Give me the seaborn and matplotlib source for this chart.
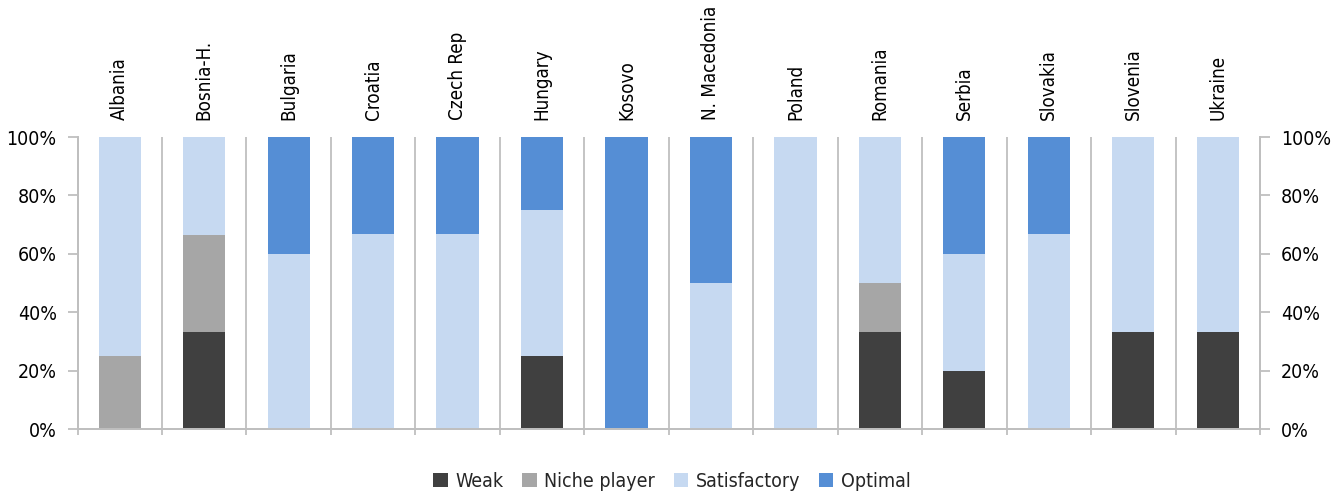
import matplotlib
matplotlib.use("Agg")
import matplotlib.pyplot as plt
import seaborn as sns
import pandas as pd
from matplotlib import font_manager
from matplotlib.patches import Patch
from matplotlib.ticker import FixedLocator, PercentFormatter

countries = ["Albania", "Bosnia-H.", "Bulgaria", "Croatia", "Czech Rep", "Hungary",
             "Kosovo", "N. Macedonia", "Poland", "Romania", "Serbia", "Slovakia",
             "Slovenia", "Ukraine"]
weak = [0, 33.3, 0, 0, 0, 25, 0, 0, 0, 33.3, 20, 0, 33.3, 33.3]
niche = [25, 33.3, 0, 0, 0, 0, 0, 0, 0, 16.7, 0, 0, 0, 0]
satisfactory = [75, 33.4, 60, 66.7, 66.7, 50, 0, 50, 100, 50, 40, 66.7, 66.7, 66.7]
optimal = [0, 0, 40, 33.3, 33.3, 25, 100, 50, 0, 0, 40, 33.3, 0, 0]
series_names = ["Weak", "Niche player", "Satisfactory", "Optimal"]
colors = ["#404040", "#A6A6A6", "#C6D9F1", "#558ED5"]

sns.set_theme(style="white")
available = {f.name for f in font_manager.fontManager.ttflist}
family = next((f for f in ["Liberation Sans Narrow", "DejaVu Sans"] if f in available), "DejaVu Sans")
plt.rcParams["font.family"] = [family, "DejaVu Sans"]
if family == "DejaVu Sans":
    plt.rcParams["font.stretch"] = "condensed"

grey = "#BFBFBF"
df = pd.DataFrame({"country": countries, "Weak": weak, "Niche player": niche,
                   "Satisfactory": satisfactory, "Optimal": optimal})

fig = plt.figure(figsize=(13.44, 4.98), dpi=100)
ax = fig.add_axes([77.5 / 1344, 1 - 429 / 498, (1260 - 77.5) / 1344, 292 / 498])

# stacked bars: draw cumulative totals from the top layer down
cum = df[series_names].cumsum(axis=1)
for name, col in reversed(list(zip(series_names, colors))):
    sns.barplot(x=df["country"], y=cum[name], color=col, saturation=1, width=0.5,
                order=countries, ax=ax, linewidth=0, zorder=2)

ax.set_xlim(-0.5, len(countries) - 0.5)
ax.set_ylim(0, 100)
ax.set_xlabel("")
ax.set_ylabel("")

# category names on top, separators at category boundaries
ax.xaxis.set_major_locator(FixedLocator(range(len(countries))))
ax.set_xticklabels(countries, rotation=90, fontsize=13.5, color="black")
ax.xaxis.set_minor_locator(FixedLocator([i - 0.5 for i in range(len(countries) + 1)]))
ax.tick_params(axis="x", which="major", bottom=False, top=True, labelbottom=False,
               labeltop=True, length=0, pad=12)
ax.tick_params(axis="x", which="minor", bottom=True, top=False, length=4, width=1.3,
               color=grey, direction="out")
ax.grid(False)
ax.grid(which="minor", axis="x", color=grey, linewidth=1.3, zorder=0)
ax.set_axisbelow(True)

yticks = [0, 20, 40, 60, 80, 100]
ax.yaxis.set_major_locator(FixedLocator(yticks))
ax.yaxis.set_major_formatter(PercentFormatter(decimals=0))
ax.tick_params(axis="y", which="major", left=True, length=7, width=1.3, color=grey,
               direction="out", labelsize=14, pad=8, labelcolor="black")

ax2 = ax.twinx()
ax2.set_ylim(0, 100)
ax2.yaxis.set_major_locator(FixedLocator(yticks))
ax2.yaxis.set_major_formatter(PercentFormatter(decimals=0))
ax2.tick_params(axis="y", right=True, length=7, width=1.3, color=grey,
                direction="out", labelsize=14, pad=8, labelcolor="black")
ax2.grid(False)

for a in (ax, ax2):
    a.spines["top"].set_visible(False)
    for side in ("left", "right", "bottom"):
        a.spines[side].set_color(grey)
        a.spines[side].set_linewidth(1.3)

handles = [Patch(facecolor=c, edgecolor="none", label=n) for n, c in zip(series_names, colors)]
fig.legend(handles=handles, loc="center", bbox_to_anchor=(0.5, 1 - 481 / 498), ncol=4,
           frameon=False, fontsize=14, handlelength=0.75, handleheight=0.75,
           handletextpad=0.4, columnspacing=0.95)

fig.savefig("out.png", dpi=100)
